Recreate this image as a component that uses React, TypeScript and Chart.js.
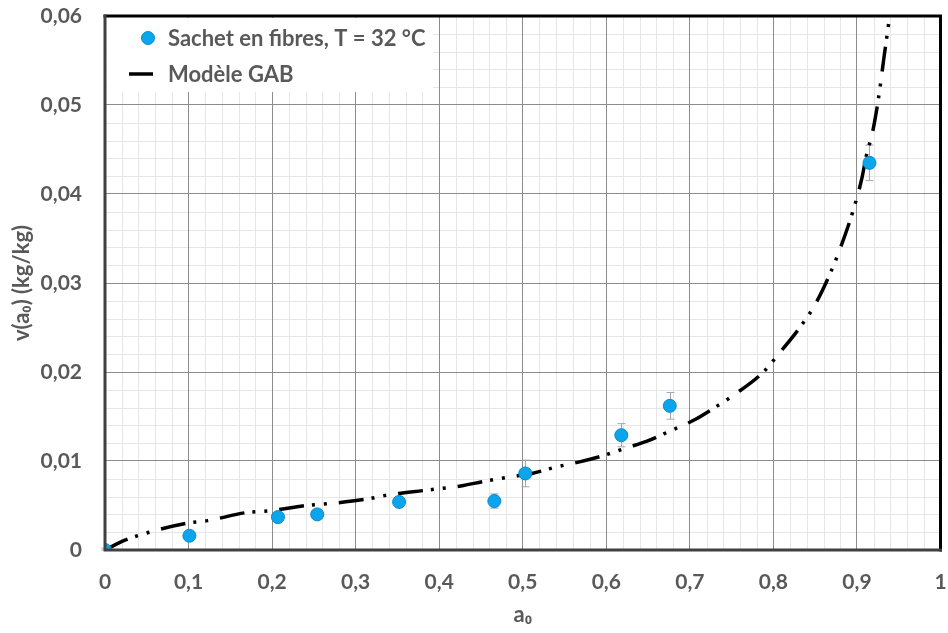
import React, { useEffect, useRef } from 'react';
import { Chart, registerables } from 'chart.js';

Chart.register(...registerables);

// Measured sorption data (Sachet en fibres, T = 32 °C)
const measuredA = [0, 0.101, 0.207, 0.254, 0.352, 0.466, 0.503, 0.618, 0.676, 0.915];
const measuredV = [0, 0.0016, 0.0037, 0.004, 0.0054, 0.0055, 0.0086, 0.0129, 0.0162, 0.0435];
const measuredErr = [0.0002, 0.0003, 0.0003, 0.0003, 0.0003, 0.0008, 0.0015, 0.0013, 0.0015, 0.002];

// GAB model curve
const gabA = [0, 0.024, 0.053, 0.097, 0.123, 0.169, 0.197, 0.24, 0.267, 0.312, 0.34, 0.383, 0.426, 0.453, 0.484, 0.511, 0.539, 0.568, 0.596, 0.625, 0.648, 0.677, 0.705, 0.728, 0.754, 0.788, 0.807, 0.834, 0.85, 0.869, 0.88, 0.894, 0.906, 0.911, 0.919, 0.926, 0.932, 0.938];
const gabV = [0, 0.0011, 0.002, 0.003, 0.0033, 0.0042, 0.0044, 0.005, 0.0052, 0.0057, 0.0062, 0.0067, 0.0072, 0.0077, 0.0082, 0.0086, 0.0093, 0.0099, 0.0106, 0.0115, 0.0122, 0.0134, 0.0146, 0.0159, 0.0175, 0.02, 0.0221, 0.0253, 0.0276, 0.0313, 0.0339, 0.0377, 0.0418, 0.0442, 0.0471, 0.0509, 0.0551, 0.0592];

const xTickLabels = ['0', '0,1', '0,2', '0,3', '0,4', '0,5', '0,6', '0,7', '0,8', '0,9', '1'];
const yTickLabels = ['0', '0,01', '0,02', '0,03', '0,04', '0,05', '0,06'];

const seriesLabels = ['Sachet en fibres, T = 32 °C', 'Modèle GAB'];
const xTitle = 'a₀';
const yTitle = 'v(a₀) (kg/kg)';

const FONT = 'Lato, "Open Sans", "DejaVu Sans", sans-serif';
const TEXT = '#595959';
const POINT_FILL = '#0AA5EC';
const POINT_BORDER = '#0A8ACB';

const minorGridPlugin = {
  id: 'minorGrid',
  beforeDraw(chart: any) {
    const { ctx, chartArea, scales } = chart;
    const xs = scales.x;
    const ys = scales.y;
    ctx.save();
    ctx.fillStyle = '#ffffff';
    ctx.fillRect(0, 0, chart.width, chart.height);
    ctx.strokeStyle = '#e6e6e6';
    ctx.lineWidth = 1;
    ctx.beginPath();
    for (let i = 1; i < 50; i++) {
      if (i % 5 === 0) continue;
      const px = Math.round(xs.getPixelForValue(i * 0.02)) + 0.5;
      ctx.moveTo(px, chartArea.top);
      ctx.lineTo(px, chartArea.bottom);
    }
    for (let i = 1; i < 30; i++) {
      if (i % 5 === 0) continue;
      const py = Math.round(ys.getPixelForValue(i * 0.002)) + 0.5;
      ctx.moveTo(chartArea.left, py);
      ctx.lineTo(chartArea.right, py);
    }
    ctx.stroke();
    ctx.restore();
  },
};

const errorBarsPlugin = {
  id: 'errorBars',
  beforeDatasetsDraw(chart: any) {
    const { ctx, scales } = chart;
    ctx.save();
    ctx.strokeStyle = '#a6a6a6';
    ctx.lineWidth = 1;
    ctx.beginPath();
    for (let i = 0; i < measuredA.length; i++) {
      const px = Math.round(scales.x.getPixelForValue(measuredA[i])) + 0.5;
      const top = scales.y.getPixelForValue(measuredV[i] + measuredErr[i]);
      const bot = scales.y.getPixelForValue(Math.max(0, measuredV[i] - measuredErr[i]));
      ctx.moveTo(px, top);
      ctx.lineTo(px, bot);
      ctx.moveTo(px - 4, top);
      ctx.lineTo(px + 4, top);
      ctx.moveTo(px - 4, bot);
      ctx.lineTo(px + 4, bot);
    }
    ctx.stroke();
    ctx.restore();
  },
};

const frameAndLegendPlugin = {
  id: 'frameLegend',
  beforeDatasetsDraw(chart: any) {
    const { ctx, chartArea } = chart;
    const { left, top } = chartArea;
    ctx.save();
    // legend box (covers grid)
    ctx.fillStyle = '#ffffff';
    ctx.fillRect(left + 2, top + 2, 326, 74);
    // marker 1
    ctx.beginPath();
    ctx.arc(left + 43, top + 22, 6.5, 0, Math.PI * 2);
    ctx.fillStyle = POINT_FILL;
    ctx.fill();
    ctx.lineWidth = 1;
    ctx.strokeStyle = POINT_BORDER;
    ctx.stroke();
    // marker 2
    ctx.beginPath();
    ctx.moveTo(left + 24, top + 58);
    ctx.lineTo(left + 48, top + 58);
    ctx.lineWidth = 3.5;
    ctx.strokeStyle = '#000000';
    ctx.stroke();
    // texts
    ctx.fillStyle = TEXT;
    ctx.font = `bold 22px ${FONT}`;
    ctx.textBaseline = 'middle';
    ctx.textAlign = 'left';
    ctx.fillText(chart.data.datasets[0].label, left + 63, top + 23);
    ctx.fillText(chart.data.datasets[1].label, left + 63, top + 59);
    ctx.restore();
  },
  afterDatasetsDraw(chart: any) {
    const { ctx, chartArea } = chart;
    const { left, right, top, bottom } = chartArea;
    ctx.save();
    ctx.lineWidth = 3;
    ctx.strokeStyle = '#000000';
    ctx.beginPath();
    ctx.moveTo(left - 1.5, top);
    ctx.lineTo(right, top);
    ctx.lineTo(right, bottom + 1.5);
    ctx.stroke();
    ctx.strokeStyle = '#404040';
    ctx.beginPath();
    ctx.moveTo(left, top - 1.5);
    ctx.lineTo(left, bottom);
    ctx.lineTo(right + 1.5, bottom);
    ctx.stroke();
    ctx.restore();
  },
};

export default function App() {
  const canvasRef = useRef<HTMLCanvasElement | null>(null);

  useEffect(() => {
    const canvas = canvasRef.current;
    if (!canvas) return;
    const chart = new Chart(canvas, {
      type: 'scatter',
      data: {
        datasets: [
          {
            label: seriesLabels[0],
            data: measuredA.map((a, i) => ({ x: a, y: measuredV[i] })),
            backgroundColor: POINT_FILL,
            borderColor: POINT_BORDER,
            borderWidth: 1,
            pointRadius: 6.5,
            showLine: false,
          },
          {
            type: 'line',
            label: seriesLabels[1],
            data: gabA.map((a, i) => ({ x: a, y: gabV[i] })),
            borderColor: '#000000',
            borderWidth: 3.5,
            borderDash: [25, 8, 3, 9, 3, 12],
            borderCapStyle: 'butt',
            pointRadius: 0,
            fill: false,
            showLine: true,
            cubicInterpolationMode: 'monotone',
          } as any,
        ],
      },
      options: {
        responsive: false,
        maintainAspectRatio: false,
        animation: false,
        layout: { padding: { top: 16, right: 4, left: 0, bottom: 0 } },
        plugins: {
          legend: { display: false },
          tooltip: { enabled: false },
        },
        scales: {
          x: {
            type: 'linear',
            min: 0,
            max: 1,
            ticks: {
              stepSize: 0.1,
              padding: 20,
              color: TEXT,
              font: { family: FONT, size: 21, weight: 'bold' },
              maxRotation: 0,
              callback: (_v: any, i: number) => xTickLabels[i],
            },
            grid: { color: '#8c8c8c', lineWidth: 1, drawTicks: false },
            border: { display: false },
            title: {
              display: true,
              text: xTitle,
              color: TEXT,
              font: { family: FONT, size: 22, weight: 'bold' },
              padding: { top: 0, bottom: 5 },
            },
            afterFit: (s: any) => {
              s.height = 83;
              s.paddingRight = 0;
              s.paddingLeft = 0;
            },
          },
          y: {
            type: 'linear',
            min: 0,
            max: 0.06,
            ticks: {
              stepSize: 0.01,
              padding: 23,
              color: TEXT,
              font: { family: FONT, size: 21, weight: 'bold' },
              callback: (_v: any, i: number) => yTickLabels[i],
            },
            grid: { color: '#8c8c8c', lineWidth: 1, drawTicks: false },
            border: { display: false },
            title: {
              display: true,
              text: yTitle,
              color: TEXT,
              font: { family: FONT, size: 22, weight: 'bold' },
              padding: { top: 9, bottom: 0 },
            },
            afterFit: (s: any) => {
              s.width = 105;
              s.paddingTop = 0;
              s.paddingBottom = 0;
            },
          },
        },
      } as any,
      plugins: [minorGridPlugin, errorBarsPlugin, frameAndLegendPlugin],
    });
    return () => chart.destroy();
  }, []);

  return (
    <div style={{ position: 'absolute', left: 0, top: 0, width: 948, height: 633, background: '#fff' }}>
      <canvas ref={canvasRef} width={948} height={633} style={{ display: 'block' }} />
    </div>
  );
}
